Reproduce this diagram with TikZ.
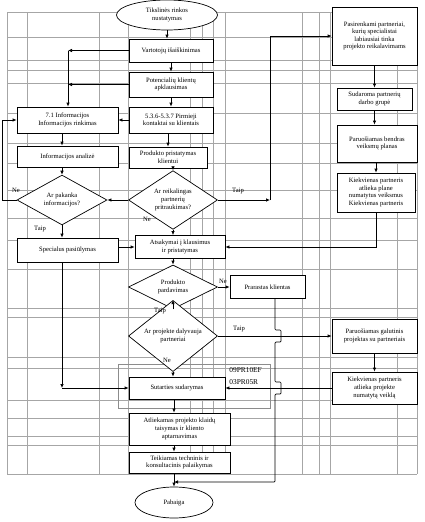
\documentclass[tikz,border=0pt]{standalone}
\usepackage{fontspec}
\setmainfont{Liberation Serif}
\usetikzlibrary{shapes.geometric}
\usetikzlibrary{arrows.meta}

\tikzset{
  blok/.style={draw, fill=white, align=center, inner sep=1pt, line width=0.7pt},
  rombas/.style={draw, fill=white, diamond, align=center, inner sep=0pt, line width=0.7pt},
  ovalas/.style={draw, fill=white, ellipse, align=center, inner sep=0pt, line width=0.7pt},
  zyme/.style={inner sep=0pt, font=\fontsize{6.6}{7.6}\selectfont},
  tinklas/.style={draw=black!35, line width=0.5pt}
}

\begin{document}
\begin{tikzpicture}[x=1pt, y=-1pt, >={Latex[length=4pt,width=3.5pt]}, line width=0.7pt,
  every node/.append style={font=\fontsize{6.6}{7.6}\selectfont}]
\useasboundingbox (0,0) rectangle (425,522);

\foreach \gx in {7,27,99,128,190,202,213,225,302,319,330,397,417}
  \draw[tinklas] (\gx,12) -- (\gx,474);
\foreach \gy in {12,37,60,70,83,113,143,163,190,218,240,269,308,317,357,368,400,418,436,445,474}
  \draw[tinklas] (7,\gy) -- (417,\gy);
\draw[draw=black!45, line width=0.6pt] (118,364) rectangle (270,408);

\node[ovalas, minimum width=101pt, minimum height=30pt] (tiksl) at (167, 15) {Tikslinės rinkos\\nustatymas};
\node[blok, minimum width=84pt, minimum height=23pt] (vart) at (171, 50.5) {Vartotojų išaiškinimas};
\node[blok, minimum width=84pt, minimum height=25pt] (potenc) at (171, 84.5) {Potencialių klientų\\apklausimas};
\node[blok, minimum width=84pt, minimum height=26pt] (pirm) at (171, 120) {5.3.6-5.3.7 Pirmieji\\kontaktai su klientais};
\node[blok, minimum width=101pt, minimum height=26pt] (info) at (67.5, 120) {7.1 Informacijos\\Informacijos rinkimas};
\node[blok, minimum width=101pt, minimum height=21pt] (anal) at (67.5, 156.5) {Informacijos analizė};
\node[blok, minimum width=78pt, minimum height=21pt] (prist) at (168, 157.5) {Produkto pristatymas\\klientui};
\node[rombas, minimum width=90pt, minimum height=46pt] (dleft) at (62, 200) {Ar pakanka\\informacijos?};
\node[rombas, minimum width=89pt, minimum height=50pt] (dcent) at (173, 200) {Ar reikalingas\\partnerių\\pritraukimas?};
\node[blok, minimum width=90pt, minimum height=23pt] (atsak) at (180, 247) {Atsakymai į klausimus\\ir pristatymas};
\node[blok, minimum width=101pt, minimum height=24pt] (spec) at (67.5, 250) {Specialus pasiūlymas};
\node[rombas, minimum width=89pt, minimum height=44pt] (dprod) at (173, 287) {Produkto\\pardavimas};
\node[blok, minimum width=75pt, minimum height=23pt] (prar) at (267.5, 287) {Prarastas klientas};
\node[rombas, minimum width=89pt, minimum height=48pt] (dpart) at (173, 336) {Ar projekte dalyvauja\\partneriai};
\node[blok, minimum width=96pt, minimum height=22pt] (sut) at (177, 388) {Sutarties sudarymas};
\node[zyme, anchor=west, align=left, font=\fontsize{7.4}{12}\selectfont] (kodas) at (229, 376) {09PR10EF\\03PR05R};
\node[blok, minimum width=101pt, minimum height=32pt] (atl) at (179.5, 429) {Atliekamas projekto klaidų\\taisymas ir kliento\\aptarnavimas};
\node[blok, minimum width=101pt, minimum height=21pt] (teik) at (179.5, 462.5) {Teikiamas techninis ir\\konsultacinis palaikymas};
\node[ovalas, minimum width=78pt, minimum height=31pt] (pab) at (174, 502.5) {Pabaiga};

\node[blok, minimum width=85pt, minimum height=58pt] (pasir) at (374.5, 36) {Pasirenkami partneriai,\\kurių specialistai\\labiausiai tinka\\projekto reikalavimams};
\node[blok, minimum width=75pt, minimum height=22pt] (sudar) at (374.5, 99) {Sudaroma partnerių\\darbo grupė};
\node[blok, minimum width=80pt, minimum height=37pt] (paruos) at (377, 143.5) {Paruošiamas bendras\\veiksmų planas};
\node[blok, minimum width=78pt, minimum height=39pt] (kiek1) at (376, 192.5) {Kiekvienas partneris\\atlieka plane\\numatytus veiksmus\\Kiekvienas partneris};
\node[blok, minimum width=85pt, minimum height=34pt] (galut) at (374.5, 336) {Paruošiamas galutinis\\projektas su partneriais};
\node[blok, minimum width=85pt, minimum height=32pt] (kiek2) at (374.5, 388) {Kiekvienas partneris\\atlieka projekte\\numatytą veiklą};

\coordinate (busA) at (68, 50.5);
\coordinate (busB) at (68, 84.5);
\coordinate (loopL) at (2, 200);
\coordinate (busR) at (270, 200);
\coordinate (kampas) at (dleft.south |- sut.west);
\coordinate (join) at (174, 482);

\draw[->] (tiksl.south) -- (tiksl.south |- vart.north);
\draw[->] (vart.south) -- (potenc.north);
\draw[->] (potenc.south) -- (pirm.north);
\draw[->] (vart.west) -- (busA);
\draw[->] (potenc.west) -- (busB);
\draw[->] (busA) -- (busA |- info.north);
\draw[->] (pirm.west) -- (info.east);
\draw[->] (pirm.south -| prist.north) -- (prist.north);
\draw[->] (dleft.north |- info.south) -- (dleft.north |- anal.north);
\draw[->] (dleft.north |- anal.south) -- (dleft.north);
\draw[->] (dcent.north |- prist.south) -- (dcent.north);
\draw[->] (dcent.west) -- (dleft.east);
\draw[->] (dleft.west) -- (loopL) |- (info.west);
\draw[->] (dleft.south) -- (dleft.south |- spec.north);
\draw[->] (spec.east |- atsak) -- (atsak.west);
\draw[->] (dcent.south) -- (dcent.south |- atsak.north);
\draw[->] (dcent.east) -- (busR);
\draw[->] (busR) |- (pasir.west);
\draw[->] (pasir.south -| sudar.north) -- (sudar.north);
\draw[->] (sudar.south) -- (sudar.south |- paruos.north);
\draw[->] (paruos.south -| kiek1.north) -- (kiek1.north);
\draw[->] (kiek1.south) |- (atsak.east);
\draw[->] (dprod.north |- atsak.south) -- (dprod.north);
\draw[->] (dprod.east) -- (prar.west);
\draw[->] (dprod.south) -- (dpart.north);
\draw[->] (dpart.east) -- (galut.west);
\draw[->] (galut.south) -- (kiek2.north);
\draw[->] (kiek2.west) -- (sut.east);
\draw[->] (dpart.south) -- (dpart.south |- sut.north);
\draw[->] (dleft.south |- spec.south) -- (kampas);
\draw[->] (kampas) -- (sut.west);
\draw[->] (pab.north |- sut.south) -- (pab.north |- atl.north);
\draw[->] (pab.north |- atl.south) -- (pab.north |- teik.north);
\draw[->] (pab.north |- teik.south) -- (pab.north);
\draw[->, rounded corners=1pt] ([xshift=7.5pt]prar.south) -- (275,330) -- (281,330) -- (281,342) -- (275,342)
  -- (275,382) -- (281,382) -- (281,394) -- (275,394) |- (join);

\node[zyme] (ne1) at (16, 190) {Ne};
\node[zyme] (taip1) at (40, 229) {Taip};
\node[zyme] (ne2) at (147, 219) {Ne};
\node[zyme] (taip2) at (238, 191) {Taip};
\node[zyme] (ne3) at (223, 281) {Ne};
\node[zyme] (taip3) at (160, 311) {Taip};
\node[zyme] (taip4) at (239, 329) {Taip};
\node[zyme] (ne4) at (167, 360) {Ne};
\end{tikzpicture}
\end{document}
